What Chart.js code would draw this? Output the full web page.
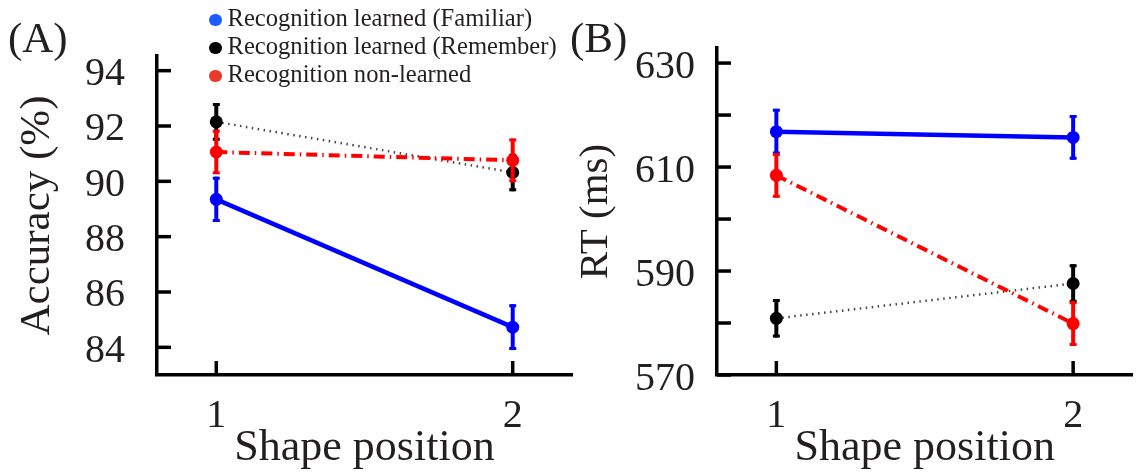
<!DOCTYPE html>
<html>
<head>
<meta charset="utf-8">
<script src="https://cdn.jsdelivr.net/npm/chart.js@4"></script>
<style>
  html, body { margin: 0; padding: 0; background: #fff; }
  #wrap { position: relative; width: 1139px; height: 473px; overflow: hidden; font-family: 'Liberation Serif', 'Times New Roman', serif; color: #231f20; }
  canvas { position: absolute; top: 0; }
  #cA { left: 0; }
  #cB { left: 560px; }
  .panel { position: absolute; font-size: 43px; line-height: 43px; }
  .leg { position: absolute; left: 209px; height: 28px; line-height: 28px; font-size: 24.6px; white-space: nowrap; }
  .leg i { display: inline-block; width: 12.5px; height: 12.5px; border-radius: 50%; margin-right: 6px; vertical-align: 0px; }
</style>
</head>
<body>
<div id="wrap">
  <canvas id="cA" width="580" height="473"></canvas>
  <canvas id="cB" width="579" height="473"></canvas>
  <div class="panel" style="left:8px; top:16px;">(A)</div>
  <div class="panel" style="left:570px; top:16px;">(B)</div>
  <div id="legend"></div>
</div>
<script>
// ---- data ----
const positions = [1, 2];
const seriesNames = ['Recognition learned (Familiar)', 'Recognition learned (Remember)', 'Recognition non-learned'];

const accFamiliar = [89.35, 84.73];
const accFamiliarErr = [0.82, 0.83];
const accRemember = [92.15, 90.32];
const accRememberErr = [0.68, 0.68];
const accNonLearned = [91.06, 90.76];
const accNonLearnedErr = [0.80, 0.79];

const rtFamiliar = [616.8, 615.7];
const rtFamiliarErr = [4.4, 4.3];
const rtRemember = [580.9, 587.6];
const rtRememberErr = [3.7, 3.7];
const rtNonLearned = [608.4, 579.9];
const rtNonLearnedErr = [4.3, 4.3];

const accTicks = [84, 86, 88, 90, 92, 94];
const rtTicks = [570, 580, 590, 600, 610, 620, 630];
const rtLabelled = [570, 590, 610, 630];
const xTicks = [1, 2];

// ---- styles ----
const FONT = "'Liberation Serif', 'Times New Roman', serif";
const TXT = '#231f20';
const BLUE = '#0000ff', BLACK = '#000000', RED = '#ff0000';
const legendDots = ['#1f5cff', '#000000', '#e8392a'];

// legend (HTML text)
const legend = document.getElementById('legend');
const rowTops = [4, 32, 60];
seriesNames.forEach((n, i) => {
  const d = document.createElement('div');
  d.className = 'leg';
  d.style.top = rowTops[i] + 'px';
  d.innerHTML = '<i style="background:' + legendDots[i] + '"></i>' + n;
  legend.appendChild(d);
});

function mk(vals, errs, color, style) {
  const ds = {
    data: positions.map((x, i) => ({ x: x, y: vals[i] })),
    errs: errs,
    borderColor: color,
    backgroundColor: color,
    pointBackgroundColor: color,
    pointBorderWidth: 0,
    pointRadius: 6.5,
    tension: 0,
    fill: false
  };
  Object.assign(ds, style);
  return ds;
}

const solid = { borderWidth: 4.5, order: 3 };
const dotted = { borderWidth: 2.5, borderDash: [1.5, 4.5], borderColor: '#444', order: 2 };
const dashdot = { borderWidth: 4, borderDash: [11, 5, 1.5, 5], order: 1 };

const errorBars = {
  id: 'errorBars',
  beforeDatasetDraw(chart, args) {
    const ds = chart.data.datasets[args.index];
    if (!ds.errs) return;
    const xs = chart.scales.x, ys = chart.scales.y;
    const ctx = chart.ctx;
    ctx.save();
    ctx.strokeStyle = ds.backgroundColor;
    ds.data.forEach((p, i) => {
      const px = xs.getPixelForValue(p.x);
      const top = ys.getPixelForValue(p.y + ds.errs[i]);
      const bot = ys.getPixelForValue(p.y - ds.errs[i]);
      ctx.lineWidth = 4;
      ctx.beginPath(); ctx.moveTo(px, top); ctx.lineTo(px, bot); ctx.stroke();
      ctx.lineWidth = 3;
      ctx.beginPath();
      ctx.moveTo(px - 3.5, top + 1.5); ctx.lineTo(px + 3.5, top + 1.5);
      ctx.moveTo(px - 3.5, bot - 1.5); ctx.lineTo(px + 3.5, bot - 1.5);
      ctx.stroke();
    });
    ctx.restore();
  }
};

const inwardTicks = {
  id: 'inwardTicks',
  beforeDatasetsDraw(chart) {
    const ctx = chart.ctx, ca = chart.chartArea;
    ctx.save();
    ctx.strokeStyle = '#000';
    ctx.lineWidth = 3.5;
    const ys = chart.scales.y, xs = chart.scales.x;
    ys.ticks.forEach(t => {
      const py = ys.getPixelForValue(t.value);
      ctx.beginPath(); ctx.moveTo(ca.left, py); ctx.lineTo(ca.left + 14, py); ctx.stroke();
    });
    xs.ticks.forEach(t => {
      const px = xs.getPixelForValue(t.value);
      ctx.beginPath(); ctx.moveTo(px, ca.bottom); ctx.lineTo(px, ca.bottom - 14); ctx.stroke();
    });
    ctx.restore();
  }
};

function makeChart(id, datasets, yMin, yMax, yTickVals, labelFn, yTitle, yTitleSize, yTitlePad, yTickPad, padRight) {
  return new Chart(document.getElementById(id), {
    type: 'line',
    data: { datasets: datasets },
    options: {
      responsive: false,
      animation: false,
      events: [],
      layout: { padding: { top: 48, right: padRight, left: 0, bottom: 0 } },
      plugins: { legend: { display: false }, tooltip: { enabled: false } },
      scales: {
        x: {
          type: 'linear', min: 0.8, max: 2.2,
          afterBuildTicks: s => { s.ticks = xTicks.map(v => ({ value: v })); },
          afterFit: s => { s.height = 98; },
          grid: { display: true, drawOnChartArea: false, drawTicks: false },
          border: { display: true, color: '#000', width: 3.5 },
          ticks: { autoSkip: false, padding: 17, color: TXT, font: { family: FONT, size: 40, lineHeight: 1.2 }, maxRotation: 0 },
          title: { display: true, text: 'Shape position', color: TXT, font: { family: FONT, size: 44, lineHeight: 1 }, padding: { top: 0, bottom: 3 } }
        },
        y: {
          type: 'linear', min: yMin, max: yMax,
          afterBuildTicks: s => { s.ticks = yTickVals.map(v => ({ value: v })); },
          afterFit: s => { s.width = 157; },
          grid: { display: true, drawOnChartArea: false, drawTicks: false },
          border: { display: true, color: '#000', width: 3.5 },
          ticks: { autoSkip: false, padding: yTickPad, labelOffset: 4, color: TXT, font: { family: FONT, size: 40 }, callback: labelFn },
          title: { display: true, text: yTitle, color: TXT, font: { family: FONT, size: yTitleSize, lineHeight: 1 }, padding: { top: yTitlePad, bottom: 0 } }
        }
      }
    },
    plugins: [errorBars, inwardTicks]
  });
}

makeChart('cA', [
  mk(accFamiliar, accFamiliarErr, BLUE, solid),
  mk(accRemember, accRememberErr, BLACK, dotted),
  mk(accNonLearned, accNonLearnedErr, RED, dashdot)
], 83, 94.53, accTicks, v => String(v), 'Accuracy (%)', 43, 16.5, 32, 8);

makeChart('cB', [
  mk(rtFamiliar, rtFamiliarErr, BLUE, solid),
  mk(rtRemember, rtRememberErr, BLACK, dotted),
  mk(rtNonLearned, rtNonLearnedErr, RED, dashdot)
], 570, 632.9, rtTicks, v => (rtLabelled.indexOf(v) >= 0 ? String(v) : ''), 'RT (ms)', 41, 15.5, 22, 6);
</script>
</body>
</html>
